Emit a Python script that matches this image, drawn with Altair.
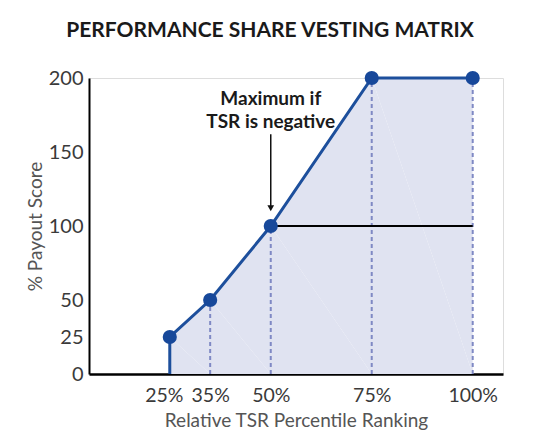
import altair as alt
import pandas as pd

# ---- data ----
x_pct = [25, 35, 50, 75, 100]
payout = [25, 50, 100, 200, 200]
path_x = [25, 25, 35, 50, 75, 100]
path_y = [0, 25, 50, 100, 200, 200]
dash_x = [35, 50, 75, 100]
dash_y = [50, 100, 200, 200]
cap_start, cap_end, cap_level = 50, 100, 100
note_lines = ["Maximum if", "TSR is negative"]
note_x = 50
note_y = [186, 170]
arrow_x = 50
arrow_top, arrow_tip = 162, 112
x_ticks = [25, 35, 50, 75, 100]
y_ticks = [0, 25, 50, 100, 150, 200]

path_df = pd.DataFrame({"x": path_x, "y": path_y, "o": list(range(len(path_x)))})
pts_df = pd.DataFrame({"x": x_pct, "y": payout})
dash_df = pd.DataFrame({"x": dash_x, "y": dash_y, "y0": [0] * len(dash_x)})
cap_df = pd.DataFrame({"x": [cap_start], "x2": [cap_end], "y": [cap_level]})
note_df = pd.DataFrame({"x": [note_x] * 2, "y": note_y, "t": note_lines})
arrow_df = pd.DataFrame({"x": [arrow_x], "y": [arrow_top], "y2": [arrow_tip]})
tip_df = pd.DataFrame({"x": [arrow_x], "y": [arrow_tip]})

FONT = "Lato"
xs = alt.Scale(domain=[5, 107.5], nice=False, zero=False)
ys = alt.Scale(domain=[0, 200], nice=False)

xaxis = alt.Axis(values=x_ticks, labelExpr="datum.value + '%'", title="Relative TSR Percentile Ranking",
                 grid=False, ticks=False, domainColor="black", domainWidth=2.5,
                 labelFont=FONT, labelFontSize=19.5, labelColor="#3a3a3a", labelPadding=12,
                 labelOffset={"condition": {"test": "datum.value == 25", "value": -6}, "value": 0},
                 titleFont=FONT, titleFontSize=19, titleFontWeight="normal", titleColor="#555",
                 titlePadding=7)
yaxis = alt.Axis(values=y_ticks, title="% Payout Score", grid=False, ticks=False,
                 domainColor="black", domainWidth=2,
                 labelFont=FONT, labelFontSize=20, labelColor="#3a3a3a", labelPadding=6,
                 titleFont=FONT, titleFontSize=19, titleFontWeight="normal", titleColor="#555",
                 titlePadding=3)

base = alt.Chart(path_df)

area = base.mark_area(color="#e0e3f1", opacity=1).encode(
    x=alt.X("x:Q", scale=xs, axis=xaxis),
    y=alt.Y("y:Q", scale=ys, axis=yaxis),
    order="o:Q",
)

dashes = alt.Chart(dash_df).mark_rule(color="#7f89c4", strokeDash=[4, 3], strokeWidth=2).encode(
    x=alt.X("x:Q", scale=xs), y=alt.Y("y0:Q", scale=ys), y2="y:Q"
)

cap = alt.Chart(cap_df).mark_rule(color="black", strokeWidth=2).encode(
    x=alt.X("x:Q", scale=xs), x2="x2:Q", y=alt.Y("y:Q", scale=ys)
)

line = base.mark_line(color="#1d4f9c", strokeWidth=3).encode(
    x=alt.X("x:Q", scale=xs), y=alt.Y("y:Q", scale=ys), order="o:Q"
)

points = alt.Chart(pts_df).mark_point(filled=True, color="#17489a", size=200, opacity=1).encode(
    x=alt.X("x:Q", scale=xs), y=alt.Y("y:Q", scale=ys)
)

arrow = alt.Chart(arrow_df).mark_rule(color="#111", strokeWidth=1.5).encode(
    x=alt.X("x:Q", scale=xs), y=alt.Y("y:Q", scale=ys), y2="y2:Q"
)
tip = alt.Chart(tip_df).mark_point(shape="triangle-down", filled=True, color="#111", size=45, opacity=1).encode(
    x=alt.X("x:Q", scale=xs), y=alt.Y("y:Q", scale=ys)
)

note = alt.Chart(note_df).mark_text(font=FONT, fontSize=19, fontWeight="bold", color="#1a1a1a").encode(
    x=alt.X("x:Q", scale=xs), y=alt.Y("y:Q", scale=ys), text="t:N"
)

chart = alt.layer(area, dashes, cap, line, points, arrow, tip, note).properties(
    width=414, height=296,
    autosize="none",
    padding={"left": 81, "top": 70, "right": 22, "bottom": 56},
    title=alt.TitleParams("PERFORMANCE SHARE VESTING MATRIX", font=FONT, fontSize=21,
                          fontWeight="bold", color="#1a1a1a", anchor="middle", dx=-26, offset=27),
).configure_view(stroke=None).configure(background="white")

chart.save("out.html", embed_options={"renderer": "svg", "actions": False})
